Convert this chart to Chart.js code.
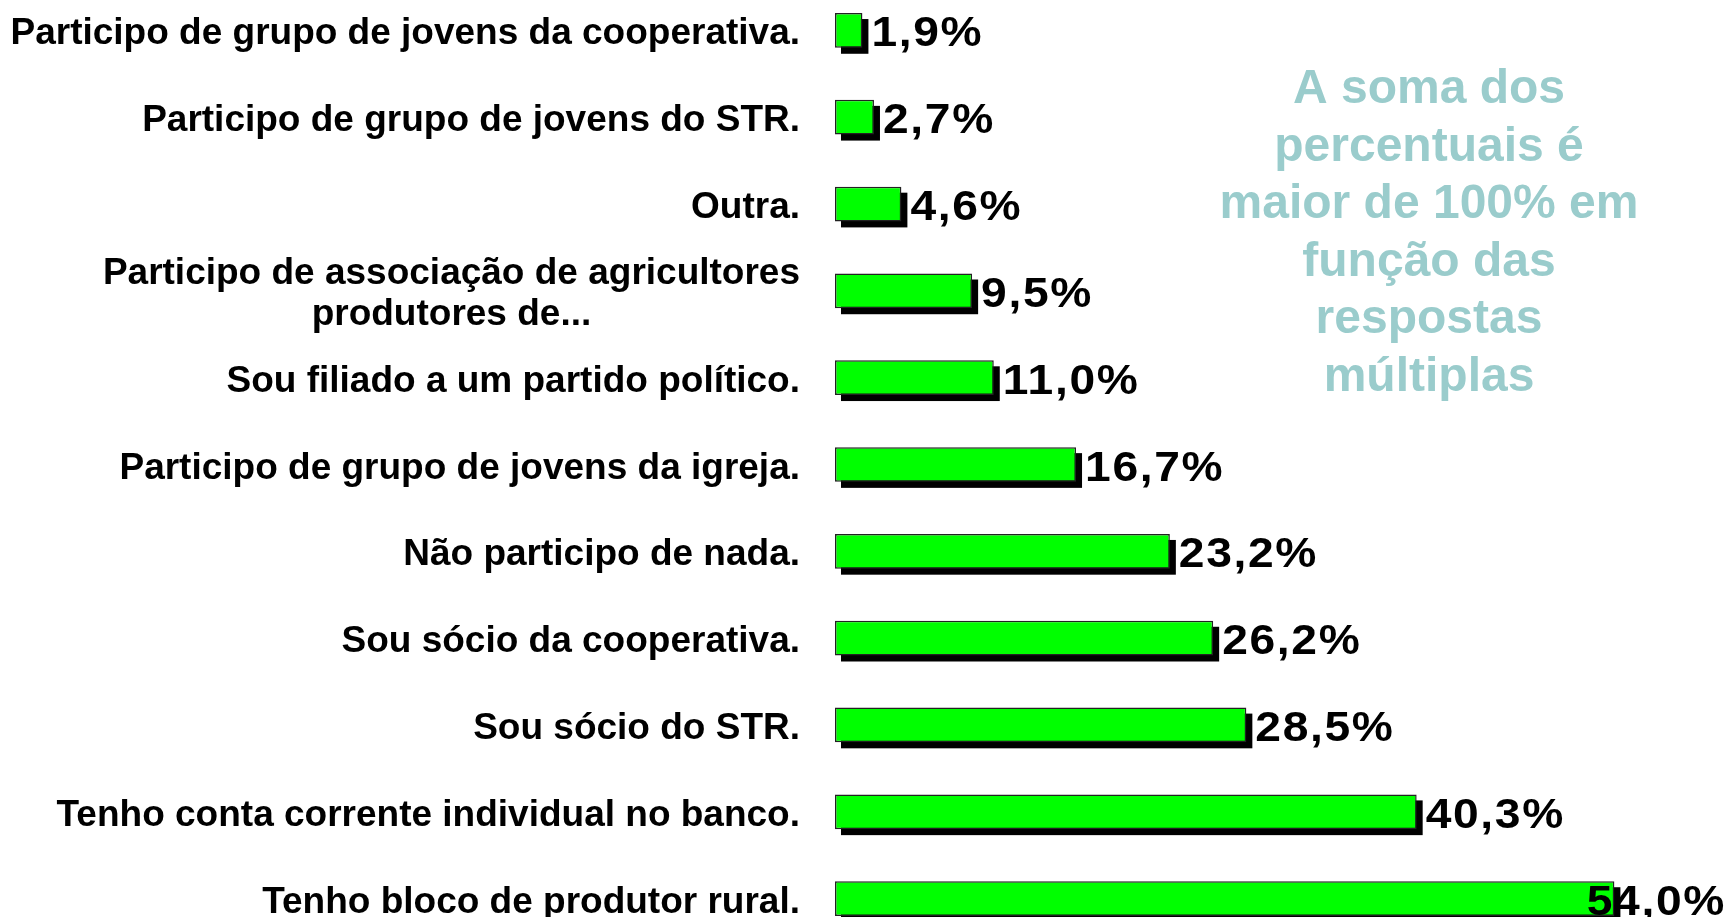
<!DOCTYPE html>
<html>
<head>
<meta charset="utf-8">
<script src="https://cdn.jsdelivr.net/npm/chart.js@4"></script>
<style>
html,body{margin:0;padding:0;background:#fff;overflow:hidden;width:1726px;height:917px;}
#wrap{position:absolute;left:0;top:-13px;width:1726px;height:955px;}
</style>
</head>
<body>
<div id="wrap"><canvas id="chart" width="1726" height="955"></canvas></div>
<script>
const categories = [
    "Participo de grupo de jovens da cooperativa.",
    "Participo de grupo de jovens do STR.",
    "Outra.",
    ["Participo de associação de agricultores", "produtores de..."],
    "Sou filiado a um partido político.",
    "Participo de grupo de jovens da igreja.",
    "Não participo de nada.",
    "Sou sócio da cooperativa.",
    "Sou sócio do STR.",
    "Tenho conta corrente individual no banco.",
    "Tenho bloco de produtor rural."
];
const percentValues = [1.9, 2.7, 4.6, 9.5, 11.0, 16.7, 23.2, 26.2, 28.5, 40.3, 54.0];
const noteLines = ["A soma dos", "percentuais é", "maior de 100% em", "função das", "respostas", "múltiplas"];

const FONT = '"Liberation Sans", Arial, sans-serif';

function fmtPct(v){
    return v.toFixed(1).replace('.', ',') + '%';
}

// black drop shadow behind every bar
const shadowPlugin = {
    id: 'barShadow',
    beforeDatasetsDraw(chart){
        const ctx = chart.ctx;
        const meta = chart.getDatasetMeta(0);
        ctx.save();
        ctx.fillStyle = '#000';
        meta.data.forEach(bar => {
            const p = bar.getProps(['x','y','base','height'], true);
            ctx.fillRect(p.base + 6, p.y - p.height/2 + 6, p.x - p.base, p.height);
        });
        ctx.restore();
    }
};

// category labels, value labels and the side note
const textPlugin = {
    id: 'texts',
    afterDatasetsDraw(chart){
        const ctx = chart.ctx;
        const yScale = chart.scales.y;
        const meta = chart.getDatasetMeta(0);
        ctx.save();
        ctx.fillStyle = '#000';
        ctx.textBaseline = 'alphabetic';
        ctx.textAlign = 'left';

        // category labels (multi-line ones centred as a block)
        ctx.font = 'bold 37px ' + FONT;
        categories.forEach((lab, i) => {
            const lines = Array.isArray(lab) ? lab : [lab];
            const cy = yScale.getPixelForValue(i);
            const widest = Math.max(...lines.map(l => ctx.measureText(l).width));
            const right = 800;
            const lh = 41;
            lines.forEach((l, j) => {
                const w = ctx.measureText(l).width;
                const ly = cy + (j - (lines.length - 1)/2) * lh + 14;
                ctx.fillText(l, right - widest + (widest - w)/2, ly);
            });
        });

        // value labels (slightly wide, like the original)
        ctx.font = 'bold 42px ' + FONT;
        ctx.letterSpacing = '1.5px';
        const sx = 1.1;
        meta.data.forEach((bar, i) => {
            const txt = fmtPct(percentValues[i]);
            const w = ctx.measureText(txt).width * sx;
            let x = bar.x + 9;
            if(x + w > 1726) x = 1726 - w;
            ctx.save();
            ctx.translate(x, bar.y + 16);
            ctx.scale(sx, 1);
            ctx.fillText(txt, 0, 0);
            ctx.restore();
        });
        ctx.letterSpacing = '0px';

        // side note
        ctx.fillStyle = '#9acccc';
        ctx.font = 'bold 48px ' + FONT;
        ctx.textAlign = 'center';
        noteLines.forEach((l, j) => {
            ctx.fillText(l, 1429, 116 + j * 57.6);
        });
        ctx.restore();
    }
};

new Chart(document.getElementById('chart'), {
    type: 'bar',
    data: {
        labels: categories,
        datasets: [{
            data: percentValues,
            backgroundColor: '#00ff00',
            borderColor: '#222',
            borderWidth: 1.5,
            borderSkipped: false,
            barPercentage: 0.4,
            categoryPercentage: 1
        }]
    },
    options: {
        indexAxis: 'y',
        responsive: false,
        animation: false,
        events: [],
        layout: {padding: {left: 835, right: 25, top: 0, bottom: 0}},
        plugins: {legend: {display: false}, tooltip: {enabled: false}},
        scales: {
            x: {display: false, min: 0, max: 60},
            y: {display: false}
        }
    },
    plugins: [shadowPlugin, textPlugin]
});
</script>
</body>
</html>
